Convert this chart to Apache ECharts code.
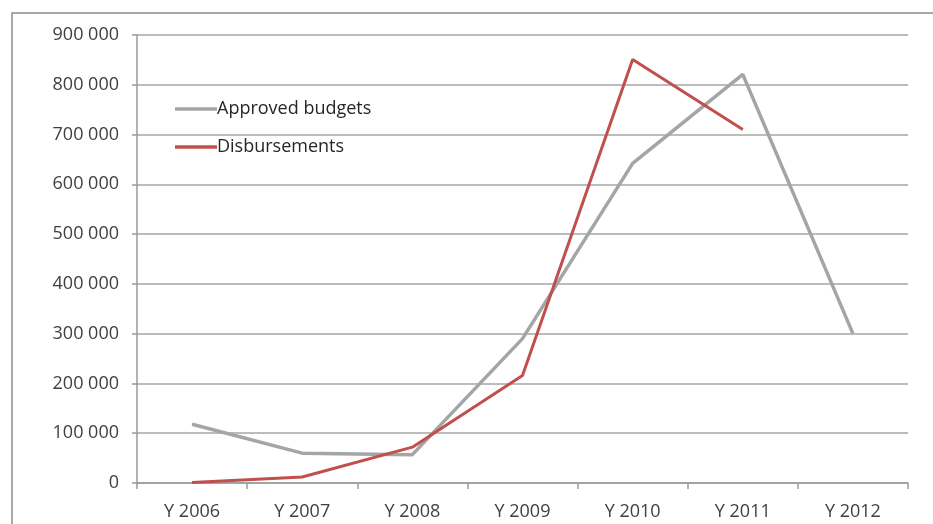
<!DOCTYPE html>
<html>
<head>
<meta charset="utf-8">
<script src="https://cdn.jsdelivr.net/npm/echarts@6/dist/echarts.min.js"></script>
<style>html,body{margin:0;padding:0;background:#fff}#c{width:933px;height:524px}</style>
</head>
<body>
<div id="c"></div>
<script>
const categories = ['Y 2006','Y 2007','Y 2008','Y 2009','Y 2010','Y 2011','Y 2012'];
const approved = [118000, 60000, 57000, 290000, 642000, 821000, 300000];
const disbursements = [1000, 12000, 72000, 216000, 851000, 710000, null];
const seriesNames = ['Approved budgets', 'Disbursements'];

const chart = echarts.init(document.getElementById('c'));
const fontFamily = '"Open Sans", "Liberation Sans", sans-serif';
chart.setOption({
  animation: false,
  backgroundColor: '#fff',
  textStyle: { fontFamily },
  graphic: [{
    type: 'polyline', z: -1, silent: true,
    shape: { points: [[12, 600], [12, 13], [1000, 13]] },
    style: { fill: null, stroke: '#8c8c8c', lineWidth: 1.5 }
  }],
  grid: { left: 137, right: 25, top: 35, bottom: 41 },
  legend: {
    orient: 'vertical', left: 170, top: 95,
    icon: 'rect', itemWidth: 42, itemHeight: 3.5, itemGap: 20,
    textStyle: { fontSize: 18, color: '#262626', fontFamily, lineHeight: 18, padding: [0,0,0,-5] },
    data: seriesNames
  },
  xAxis: {
    type: 'category', data: categories, boundaryGap: true,
    axisLine: { lineStyle: { color: '#9a9a9a', width: 1.5 } },
    axisTick: { show: true, length: 6, lineStyle: { color: '#9a9a9a', width: 1.5 } },
    axisLabel: { fontSize: 18, color: '#404040', margin: 20, fontFamily }
  },
  yAxis: {
    type: 'value', min: 0, max: 900000, interval: 100000,
    axisLine: { show: true, lineStyle: { color: '#9a9a9a', width: 1.5 } },
    axisTick: { show: true, length: 5, lineStyle: { color: '#9a9a9a', width: 1.5 } },
    splitLine: { lineStyle: { color: '#a6a6a6', width: 1.5 } },
    axisLabel: {
      fontSize: 18, color: '#404040', margin: 18, fontFamily,
      formatter: v => v === 0 ? '0' : String(v).replace(/\B(?=(\d{3})+(?!\d))/g, ' ')
    }
  },
  series: [
    { name: seriesNames[0], type: 'line', data: approved, showSymbol: false, symbol: 'none',
      lineStyle: { color: '#a5a5a5', width: 3.5 }, itemStyle: { color: '#a5a5a5' } },
    { name: seriesNames[1], type: 'line', data: disbursements, showSymbol: false, symbol: 'none',
      lineStyle: { color: '#c0504d', width: 3 }, itemStyle: { color: '#c0504d' } }
  ]
});
</script>
</body>
</html>
